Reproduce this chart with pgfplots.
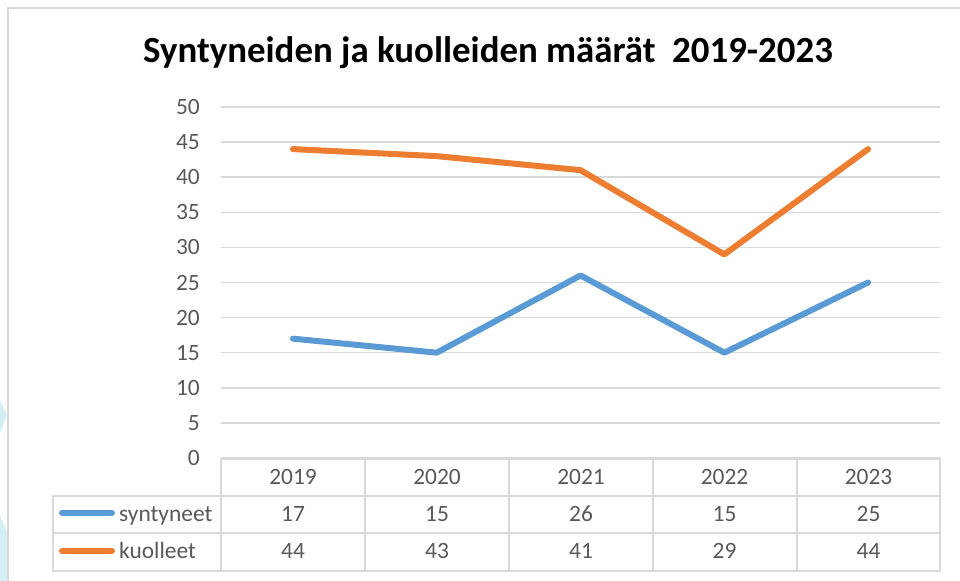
\documentclass[border=0pt]{standalone}
\usepackage{fontspec}
\setmainfont{Carlito}
\usepackage{pgfplots}
\pgfplotsset{compat=1.18}
\definecolor{sblue}{HTML}{5B9BD5}
\definecolor{sorange}{HTML}{ED7D31}
\definecolor{gridc}{HTML}{D9D9D9}
\definecolor{txt}{HTML}{595959}
\definecolor{cyanbg}{HTML}{D4EFF4}
\begin{document}
\begin{tikzpicture}[x=1bp,y=1bp]
\useasboundingbox (0,0) rectangle (960,581);
\fill[white] (0,0) rectangle (960,581);
\fill[cyanbg] (0,181) -- (7,166) -- (0,148) -- cycle;
\fill[cyanbg] (0,64) -- (7,50) -- (7,0) -- (0,0) -- cycle;
\draw[gridc, line width=2bp] (8,-5) -- (8,573) -- (965,573);
\node[anchor=base, inner sep=0, font=\fontsize{37}{44}\selectfont\bfseries] at (488,518) {Syntyneiden ja kuolleiden määrät\ \ 2019-2023};
\begin{axis}[at={(221bp,123bp)}, anchor=south west, scale only axis,
  width=719bp, height=351bp, xmin=-0.5, xmax=4.5, ymin=0, ymax=50,
  ytick={0,5,...,50}, xtick=\empty, axis line style={draw=none},
  ymajorgrids, grid style={gridc, line width=1.5bp}, major tick length=0,
  /pgf/number format/assume math mode=true,
  yticklabel style={font=\fontsize{23.5}{28}\selectfont, text=txt, anchor=east, inner sep=0, xshift=-21bp},
  clip=false]
\addplot[sblue, line width=6bp, line cap=round, line join=round] coordinates {(0,17)(1,15)(2,26)(3,15)(4,25)};
\addplot[sorange, line width=6bp, line cap=round, line join=round] coordinates {(0,44)(1,43)(2,41)(3,29)(4,44)};
\end{axis}
% data table
\draw[gridc, line width=2bp] (221,122) -- (940,122) -- (940,10.3) -- (53,10.3) -- (53,85.3) -- (940,85.3);
\draw[gridc, line width=2bp] (53,48.3) -- (940,48.3);
\foreach \xx in {221,365,509,652.5,796.5} \draw[gridc, line width=2bp] (\xx,122) -- (\xx,10.3);
\draw[sblue, line width=6bp, line cap=round] (62,68.3) -- (112,68.3);
\draw[sorange, line width=6bp, line cap=round] (62,30) -- (112,30);
\begin{scope}[every node/.style={inner sep=0, text=txt, font=\fontsize{23.5}{28}\selectfont}]
\node[anchor=base west] at (119,59) {syntyneet};
\node[anchor=base west] at (119,22) {kuolleet};
\foreach \xx/\yr/\a/\b in {293/2019/17/44, 437/2020/15/43, 581/2021/26/41, 724.5/2022/15/29, 868.5/2023/25/44}{
  \node[anchor=base] at (\xx,96) {\yr};
  \node[anchor=base] at (\xx,59) {\a};
  \node[anchor=base] at (\xx,22) {\b};
}
\end{scope}
\end{tikzpicture}
\end{document}
